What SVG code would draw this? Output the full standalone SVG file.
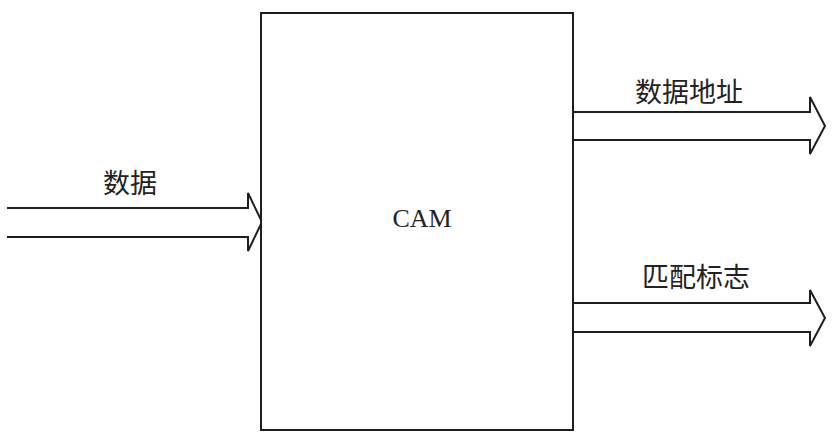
<svg xmlns="http://www.w3.org/2000/svg" width="832" height="442" viewBox="0 0 832 442">
<style>
.ln{fill:none;stroke:#1e1e1e;stroke-width:2;stroke-linejoin:miter}
.box{fill:#fff;stroke:#1e1e1e;stroke-width:2}
.cn{font-family:"Noto Sans CJK SC","Noto Sans CJK JP",sans-serif;font-size:27px;fill:#222}
.lt{font-family:"Liberation Serif",serif;font-size:26px;fill:#222}
</style>
<rect width="832" height="442" fill="#fff"/>
<g id="connectors">
<path class="ln" d="M7,208 H248 V193 L262,222 L248,251 V237 H7"/>
<path class="ln" d="M573,112 H810 V97 L825,126 L810,154 V140 H573"/>
<path class="ln" d="M573,303 H810 V290 L825,318 L810,346 V332 H573"/>
</g>
<g id="cam">
<rect class="box" x="261" y="13" width="312" height="417"/>
<text class="lt" x="422" y="227" text-anchor="middle">CAM</text>
</g>
<g id="label-data"><text class="cn" x="130" y="193" text-anchor="middle">数据</text></g>
<g id="label-addr"><text class="cn" x="689" y="102" text-anchor="middle">数据地址</text></g>
<g id="label-match"><text class="cn" x="696" y="287" text-anchor="middle">匹配标志</text></g>
</svg>
